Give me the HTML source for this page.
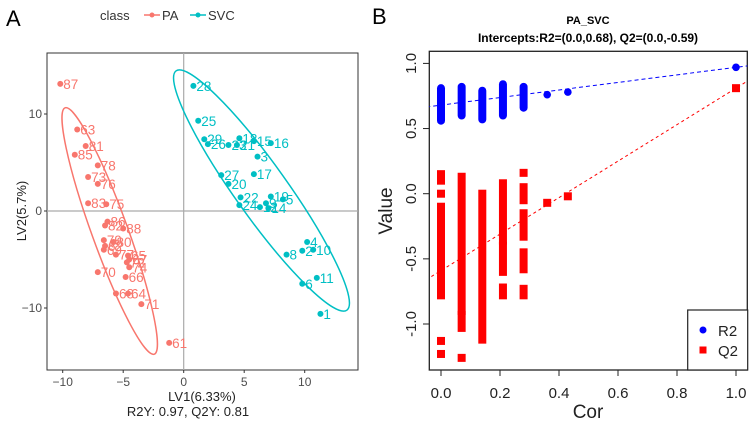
<!DOCTYPE html>
<html><head><meta charset="utf-8"><style>
body{margin:0;background:#fff;width:749px;height:424px;overflow:hidden}
svg{font-family:"Liberation Sans",sans-serif}
</style></head><body>
<svg width="749" height="424" id="fig">
<text x="6" y="26" font-size="22">A</text>
<text x="372" y="24" font-size="22">B</text>
<g font-size="13" fill="#333">
<text x="100" y="20">class</text>
<line x1="144" y1="15" x2="160" y2="15" stroke="#F8766D" stroke-width="1.5"/><circle cx="152" cy="15" r="2.5" fill="#F8766D"/>
<text x="162" y="20" fill="#333">PA</text>
<line x1="190" y1="15" x2="206" y2="15" stroke="#00BFC4" stroke-width="1.5"/><circle cx="198" cy="15" r="2.5" fill="#00BFC4"/>
<text x="208" y="20" fill="#333">SVC</text>
</g>
<rect x="47" y="53" width="311" height="317" fill="none" stroke="#333" stroke-width="1"/>
<g id="ga"></g>
<g id="gb"></g>
<text x="588" y="24" font-size="11" font-weight="bold" text-anchor="middle">PA_SVC</text>
<text x="588" y="42" font-size="12" font-weight="bold" text-anchor="middle">Intercepts:R2=(0.0,0.68), Q2=(0.0,-0.59)</text>
</svg>
<script>
const NS='http://www.w3.org/2000/svg';
function mk(p,t,a,txt){const e=document.createElementNS(NS,t);for(const k in a)e.setAttribute(k,a[k]);if(txt!==undefined)e.textContent=txt;p.appendChild(e);return e;}
// Panel A data
const paLabels=['87','63','81','85','78','73','76','83','75','86','82','88','79','80','62','69','77','65','67','72','74','70','66','68','64','71','61'];
const paX=[-10.2,-8.8,-8.1,-9,-7.1,-7.9,-7.1,-7.9,-6.4,-6.3,-6.5,-5,-6.6,-5.8,-6.5,-6.6,-5.6,-4.6,-4.5,-4.7,-4.5,-7.1,-4.8,-5.6,-4.6,-3.5,-1.2];
const paY=[13.1,8.4,6.7,5.8,4.7,3.5,2.8,0.8,0.7,-1.1,-1.5,-1.8,-3,-3.2,-3.6,-4,-4.5,-4.6,-5,-5.3,-5.8,-6.3,-6.8,-8.5,-8.5,-9.6,-13.6];
const svcLabels=['28','25','29','26','23','21','18','15','16','3','27','17','20','22','19','5','24','9','12','14','4','2','10','8','11','6','1'];
const svcX=[0.8,1.2,1.7,2,3.7,4.4,4.6,5.8,7.2,6.1,3.1,5.8,3.7,4.7,7.2,8.2,4.6,6.8,6.3,7,10.2,9.8,10.7,8.5,11,9.8,11.3];
const svcY=[12.9,9.3,7.4,6.9,6.8,6.8,7.5,7.2,7,5.6,3.7,3.8,2.8,1.4,1.5,1.2,0.6,0.8,0.4,0.3,-3.2,-4.1,-4,-4.5,-6.9,-7.5,-10.6];
const aXTicks=[-10,-5,0,5,10], aYTicks=[-10,0,10];
const ax=v=>183.7+v*12.1, ay=v=>211-v*9.7;
const ga=document.getElementById('ga');
let e=mk(ga,'line',{x1:ax(0),y1:53,x2:ax(0),y2:370,stroke:'#aaa','stroke-width':1.2});

e=mk(ga,'line',{x1:47,y1:ay(0),x2:358,y2:ay(0),stroke:'#aaa','stroke-width':1.2});

e=mk(ga,'ellipse',{cx:109.7,cy:231,rx:131,ry:18,transform:'rotate(70.1 109.7 231)',fill:'none',stroke:'#F8766D','stroke-width':1.5});

e=mk(ga,'ellipse',{cx:261.5,cy:190.5,rx:147,ry:26,transform:'rotate(54.5 261.5 190.5)',fill:'none',stroke:'#00BFC4','stroke-width':1.5});

function pts(xs,ys,ls,col,nm){xs.forEach((x,i)=>{const c=mk(ga,'circle',{cx:ax(x),cy:ay(ys[i]),r:3,fill:col});

const t=mk(ga,'text',{x:ax(x)+3,y:ay(ys[i])+5,'font-size':13.5,fill:col},ls[i]);
});}
pts(paX,paY,paLabels,'#F8766D','pa');pts(svcX,svcY,svcLabels,'#00BFC4','svc');
aXTicks.forEach(v=>{mk(ga,'line',{x1:ax(v),y1:370,x2:ax(v),y2:373,stroke:'#333'});
const t=mk(ga,'text',{x:ax(v),y:386,'font-size':12,fill:'#4d4d4d','text-anchor':'middle'},v===0?'0':(v<0?'\u2212'+(-v):String(v)));
});
aYTicks.forEach(v=>{mk(ga,'line',{x1:44,y1:ay(v),x2:47,y2:ay(v),stroke:'#333'});
const t=mk(ga,'text',{x:42,y:ay(v)+4,'font-size':12,fill:'#4d4d4d','text-anchor':'end'},v===0?'0':(v<0?'\u2212'+(-v):String(v)));
});
e=mk(ga,'text',{x:202,y:401,'font-size':13,'text-anchor':'middle',fill:'#222'},'LV1(6.33%)');

e=mk(ga,'text',{x:188,y:416,'font-size':13,'text-anchor':'middle',fill:'#222'},'R2Y: 0.97, Q2Y: 0.81');

e=mk(ga,'text',{x:0,y:0,'font-size':13,'text-anchor':'middle',fill:'#222',transform:'translate(26,211) rotate(-90)'},'LV2(5.7%)');


// Panel B data
const r2Cols=[0,0.07,0.14,0.21,0.28];
const r2Min=[0.56,0.6,0.57,0.6,0.66], r2Max=[0.81,0.82,0.79,0.84,0.82];
const r2SingleX=[0.36,0.43,1], r2SingleY=[0.76,0.78,0.97];
const q2SegX=[0,0,0,0,0,0,0.07,0.07,0.07,0.14,0.21,0.21,0.21,0.28,0.28,0.28,0.28,0.28];
const q2SegTop=[0.15,0,-0.1,-0.65,-1.13,-1.23,0.13,-0.93,-1.26,0,0.08,-0.4,-0.72,0.16,0.05,-0.15,-0.45,-0.73];
const q2SegBot=[0.1,0,-0.62,-0.78,-1.13,-1.23,-0.9,-1.03,-1.26,-1.12,-0.36,-0.6,-0.78,0.16,-0.05,-0.33,-0.58,-0.78];
const q2SingleX=[0.36,0.43,1], q2SingleY=[-0.07,-0.02,0.81];
const interR2=0.68, slopeR2=0.29, interQ2=-0.59, slopeQ2=1.4;
const bXTicks=[0,0.2,0.4,0.6,0.8,1.0], bYTicks=[-1,-0.5,0,0.5,1];
const bx=v=>441+v*295, by=v=>193.7-v*130.3;
const gb=document.getElementById('gb');
e=mk(gb,'rect',{x:429.3,y:51.3,width:318,height:318.7,fill:'none',stroke:'#222','stroke-width':1.3});

const clip=mk(gb,'clipPath',{id:'cb'});mk(clip,'rect',{x:429.3,y:51.3,width:318,height:318.7});
const gc=mk(gb,'g',{'clip-path':'url(#cb)'});
e=mk(gc,'line',{x1:bx(-0.05),y1:by(interR2-0.05*slopeR2),x2:bx(1.05),y2:by(interR2+1.05*slopeR2),stroke:'#0000ff','stroke-width':1,'stroke-dasharray':'4,3'});

e=mk(gc,'line',{x1:bx(-0.05),y1:by(interQ2-0.05*slopeQ2),x2:bx(1.05),y2:by(interQ2+1.05*slopeQ2),stroke:'#ff0000','stroke-width':1,'stroke-dasharray':'3,3'});

r2Cols.forEach((x,i)=>{const y1=by(r2Max[i]),y2=by(r2Min[i]);
const r=mk(gc,'rect',{x:bx(x)-4,y:y1-4,width:8,height:y2-y1+8,rx:4,fill:'#0000ff'});
});
r2SingleX.forEach((x,i)=>{const c=mk(gc,'circle',{cx:bx(x),cy:by(r2SingleY[i]),r:3.8,fill:'#0000ff'});
});
q2SegX.forEach((x,i)=>{const y1=by(q2SegTop[i]),y2=by(q2SegBot[i]);
const r=mk(gc,'rect',{x:bx(x)-4,y:y1-4,width:8,height:y2-y1+8,fill:'#ff0000'});
});
q2SingleX.forEach((x,i)=>{const r=mk(gc,'rect',{x:bx(x)-4,y:by(q2SingleY[i])-4,width:8,height:8,fill:'#ff0000'});
});
bXTicks.forEach(v=>{mk(gb,'line',{x1:bx(v),y1:370,x2:bx(v),y2:376,stroke:'#222'});
const t=mk(gb,'text',{x:bx(v),y:398,'font-size':15,fill:'#222','text-anchor':'middle'},v.toFixed(1));
});
bYTicks.forEach(v=>{mk(gb,'line',{x1:423,y1:by(v),x2:429.3,y2:by(v),stroke:'#222'});
const t=mk(gb,'text',{x:0,y:0,'font-size':15,fill:'#222','text-anchor':'middle',transform:'translate(416,'+by(v)+') rotate(-90)'},v.toFixed(1));
});
e=mk(gb,'text',{x:588,y:418,'font-size':19,'text-anchor':'middle',fill:'#222'},'Cor');

e=mk(gb,'text',{x:0,y:0,'font-size':19,'text-anchor':'middle',fill:'#222',transform:'translate(392,211) rotate(-90)'},'Value');

const lg=mk(gb,'g',{});

mk(lg,'rect',{x:687.7,y:310,width:60,height:60,fill:'#fff',stroke:'#222','stroke-width':1.2});
mk(lg,'circle',{cx:703,cy:330,r:3.5,fill:'#0000ff'});
mk(lg,'text',{x:718,y:336,'font-size':15,fill:'#222'},'R2');
mk(lg,'rect',{x:699.5,y:346.5,width:7,height:7,fill:'#ff0000'});
mk(lg,'text',{x:718,y:356,'font-size':15,fill:'#222'},'Q2');
</script>
</body></html>
